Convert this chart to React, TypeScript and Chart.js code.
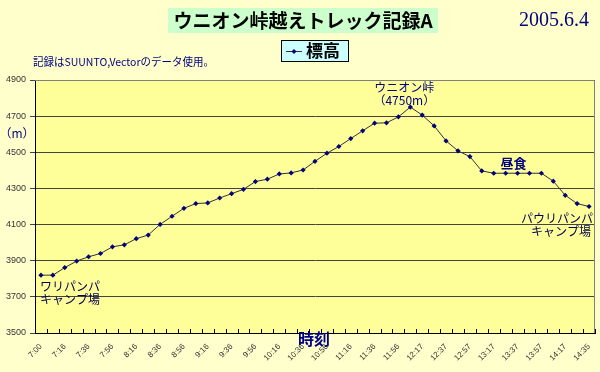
import React, { useEffect, useRef } from "react";
import { Chart, registerables } from "chart.js";

Chart.register(...registerables);

const categories: string[] = [
  "7:00", "7:06", "7:16", "7:26", "7:36", "7:46", "7:56", "8:06", "8:16", "8:26",
  "8:36", "8:46", "8:56", "9:06", "9:16", "9:26", "9:36", "9:46", "9:56", "10:06",
  "10:16", "10:26", "10:36", "10:46", "10:56", "11:06", "11:16", "11:26", "11:36", "11:46",
  "11:56", "12:06", "12:17", "12:27", "12:37", "12:47", "12:57", "13:07", "13:17", "13:27",
  "13:37", "13:47", "13:57", "14:07", "14:17", "14:26", "14:35",
];

const elevations: number[] = [
  3820, 3820, 3862, 3898, 3922, 3940, 3977, 3988, 4022, 4042,
  4101, 4146, 4190, 4216, 4220, 4247, 4271, 4295, 4338, 4351,
  4380, 4386, 4402, 4450, 4495, 4532, 4576, 4619, 4661, 4663,
  4696, 4750, 4706, 4646, 4563, 4508, 4476, 4397, 4384, 4384,
  4384, 4384, 4384, 4340, 4262, 4216, 4200,
];

const yMin = 3500;
const yMax = 4900;
const yStep = 200;

const chartTitle = "ウニオン峠越えトレック記録A";
const dateText = "2005.6.4";
const noteText = "記録はSUUNTO,Vectorのデータ使用。";
const seriesName = "標高";
const yAxisTitle = "（m）";
const xAxisTitle = "時刻";

const peakIndex = 31;
const lunchIndex = 40;
const startIndex = 0;
const endIndex = 46;
const peakLines = ["ウニオン峠", "（4750m）"];
const lunchLines = ["昼食"];
const startLines = ["ワリパンパ", "キャンプ場"];
const endLines = ["パウリパンパ", "キャンプ場"];

const BG = "#FFFFCC";
const PLOT_BG = "#FFFF99";
const NAVY = "#000080";
const JP = '"Noto Sans CJK JP", "Noto Sans", sans-serif';

const decorPlugin = {
  id: "decor",
  beforeDraw(chart: any) {
    const { ctx, chartArea: a } = chart;
    ctx.save();
    ctx.fillStyle = BG;
    ctx.fillRect(0, 0, chart.width, chart.height);
    ctx.fillStyle = PLOT_BG;
    ctx.fillRect(a.left, a.top, a.right - a.left, a.bottom - a.top);
    ctx.restore();
  },
  afterDraw(chart: any) {
    const { ctx, chartArea: a } = chart;
    const xs = chart.scales.x;
    const ys = chart.scales.y;
    ctx.save();
    ctx.strokeStyle = "#808080";
    ctx.lineWidth = 1;
    ctx.beginPath();
    ctx.moveTo(a.left, a.top + 0.5);
    ctx.lineTo(a.right - 0.5, a.top + 0.5);
    ctx.lineTo(a.right - 0.5, a.bottom);
    ctx.stroke();
    ctx.strokeStyle = "#000";
    const n = categories.length;
    const w = (a.right - a.left) / n;
    ctx.beginPath();
    for (let k = 0; k <= n; k++) {
      const x = Math.round(a.left + k * w) + 0.5;
      ctx.moveTo(x, a.bottom);
      ctx.lineTo(x, a.bottom - 4);
    }
    ctx.stroke();

    ctx.fillStyle = "#CCFFCC";
    ctx.fillRect(168, 8, 270, 25);
    ctx.fillStyle = "#000";
    ctx.font = `bold 19px ${JP}`;
    ctx.textAlign = "center";
    ctx.textBaseline = "middle";
    ctx.fillText(chartTitle, 303, 21, 262);

    ctx.fillStyle = NAVY;
    ctx.font = '20px "Liberation Serif", serif';
    ctx.textAlign = "left";
    ctx.fillText(dateText, 519, 21);

    ctx.fillStyle = "#CCFFFF";
    ctx.fillRect(281.5, 40.5, 67, 21);
    ctx.strokeStyle = "#000";
    ctx.strokeRect(281.5, 40.5, 67, 21);
    ctx.strokeStyle = "#333";
    ctx.beginPath();
    ctx.moveTo(286, 51.5);
    ctx.lineTo(302, 51.5);
    ctx.stroke();
    ctx.fillStyle = NAVY;
    ctx.beginPath();
    ctx.moveTo(294, 49);
    ctx.lineTo(296.5, 51.5);
    ctx.lineTo(294, 54);
    ctx.lineTo(291.5, 51.5);
    ctx.closePath();
    ctx.fill();
    ctx.fillStyle = "#000";
    ctx.font = `bold 17px ${JP}`;
    ctx.textAlign = "left";
    ctx.fillText(seriesName, 306, 51);

    ctx.fillStyle = NAVY;
    ctx.font = `11px ${JP}`;
    ctx.fillText(noteText, 33, 62, 181);

    ctx.font = `12px ${JP}`;
    ctx.textAlign = "center";
    ctx.fillText(yAxisTitle, 17, 133);
    ctx.font = `bold 16px ${JP}`;
    ctx.fillText(xAxisTitle, 314, 339);

    const px = (i: number) => xs.getPixelForValue(i);
    const py = (i: number) => ys.getPixelForValue(elevations[i]);

    ctx.fillStyle = NAVY;
    ctx.font = `12px ${JP}`;
    ctx.textAlign = "center";
    ctx.fillText(peakLines[0], px(peakIndex) - 6, py(peakIndex) - 20);
    ctx.fillText(peakLines[1], px(peakIndex) - 6, py(peakIndex) - 7);

    ctx.font = `bold 13px ${JP}`;
    ctx.fillText(lunchLines[0], px(lunchIndex) - 4, py(lunchIndex) - 10);

    ctx.font = `12px ${JP}`;
    ctx.fillStyle = "#000050";
    ctx.textAlign = "right";
    ctx.fillText(endLines[0], px(endIndex) + 4, py(endIndex) + 12);
    ctx.fillText(endLines[1], px(endIndex) + 2, py(endIndex) + 25);

    ctx.textAlign = "left";
    ctx.fillText(startLines[0], px(startIndex) - 1, py(startIndex) + 11);
    ctx.fillText(startLines[1], px(startIndex) - 1, py(startIndex) + 24);
    ctx.restore();
  },
};

export default function App() {
  const ref = useRef<HTMLCanvasElement | null>(null);

  useEffect(() => {
    document.body.style.margin = "0";
    const canvas = ref.current;
    if (!canvas) return;
    const chart = new Chart(canvas, {
      type: "line",
      data: {
        labels: categories,
        datasets: [
          {
            label: seriesName,
            data: elevations,
            borderColor: "#333333",
            borderWidth: 1,
            pointStyle: "rectRot",
            pointRadius: 2.6,
            pointBackgroundColor: NAVY,
            pointBorderColor: NAVY,
            pointBorderWidth: 0,
            tension: 0,
            fill: false,
          },
        ],
      },
      options: {
        responsive: false,
        animation: false,
        devicePixelRatio: 1,
        layout: { padding: { left: 0, top: 80, right: 5, bottom: 0 } },
        plugins: {
          legend: { display: false },
          tooltip: { enabled: false },
          title: { display: false },
        },
        scales: {
          x: {
            type: "category",
            offset: true,
            grid: { display: true, drawOnChartArea: false, drawTicks: false },
            border: { display: true, color: "#000", width: 1 },
            ticks: {
              autoSkip: false,
              maxRotation: 45,
              minRotation: 45,
              padding: 9,
              color: "#333",
              font: { family: '"Liberation Sans", Arial, sans-serif', size: 8 },
              callback: (_v: any, i: number) => (i % 2 === 0 ? categories[i] : ""),
            },
            afterFit: (s: any) => {
              s.height = 39;
              s.paddingLeft = 0;
              s.paddingRight = 0;
            },
          },
          y: {
            min: yMin,
            max: yMax,
            ticks: {
              stepSize: yStep,
              padding: 4,
              color: "#333",
              font: { family: '"Liberation Sans", Arial, sans-serif', size: 9 },
              callback: (v: any) => String(v),
            },
            grid: { color: "#444", lineWidth: 1, tickLength: 5, drawTicks: true },
            border: { display: true, color: "#000", width: 1 },
            afterFit: (s: any) => {
              s.width = 35;
              s.paddingTop = 0;
              s.paddingBottom = 0;
            },
          },
        },
      },
      plugins: [decorPlugin],
    });
    return () => chart.destroy();
  }, []);

  return (
    <div style={{ width: 600, height: 372, position: "relative" }}>
      <canvas ref={ref} width={600} height={372} style={{ display: "block" }} />
    </div>
  );
}
